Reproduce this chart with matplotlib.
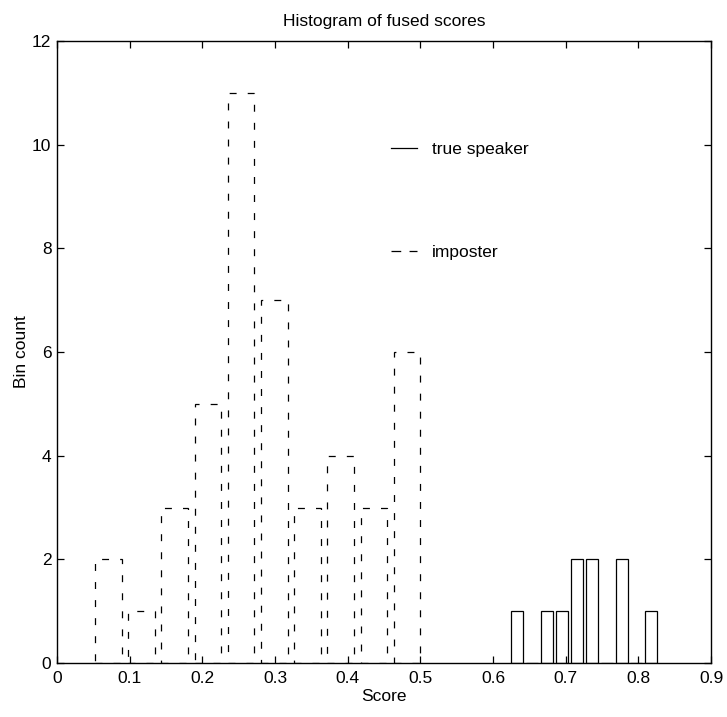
import matplotlib
matplotlib.use("Agg")
import matplotlib.pyplot as plt
from matplotlib.lines import Line2D
from matplotlib.ticker import FormatStrFormatter

plt.rcParams["font.family"] = ["Liberation Sans", "DejaVu Sans"]
plt.rcParams["lines.scale_dashes"] = False

# -------------------- Datos --------------------
# Centros de los 10 bins y cuentas
imp_centros = [0.0706, 0.1163, 0.1620, 0.2077, 0.2534, 0.2991, 0.3448, 0.3905, 0.4362, 0.4819]
imp_cuentas = [2, 1, 3, 5, 11, 7, 3, 4, 3, 6]
imp_ancho = 0.0366

true_centros = [0.6330, 0.6536, 0.6741, 0.6947, 0.7152, 0.7358, 0.7563, 0.7769, 0.7974, 0.8180]
true_cuentas = [1, 0, 1, 1, 2, 2, 0, 2, 0, 1]
true_ancho = 0.0165

x_ticks = [0, 0.1, 0.2, 0.3, 0.4, 0.5, 0.6, 0.7, 0.8, 0.9]
y_ticks = [0, 2, 4, 6, 8, 10, 12]

guion = (0, (5, 8))

# -------------------- Gráfica --------------------
fig = plt.figure(figsize=(7.27, 7.17), dpi=100)
ax = fig.add_axes([0.0784, 0.0753, 0.8996, 0.8675])

ax.bar(true_centros, true_cuentas, width=true_ancho, fill=False,
       edgecolor="black", linewidth=0.9)
ax.bar(imp_centros, imp_cuentas, width=imp_ancho, fill=False,
       edgecolor="black", linewidth=0.9, linestyle=guion)

ax.set_xlim(0, 0.9)
ax.set_ylim(0, 12)
ax.set_xticks(x_ticks)
ax.set_yticks(y_ticks)
ax.xaxis.set_major_formatter(FormatStrFormatter("%g"))
ax.yaxis.set_major_formatter(FormatStrFormatter("%g"))
ax.tick_params(direction="in", length=5, width=0.9, top=True, right=True,
               labelsize=12.5)
ax.tick_params(axis="x", pad=6)
ax.tick_params(axis="y", pad=4)
for s in ax.spines.values():
    s.set_linewidth(1.0)

ax.set_title("Histogram of fused scores", fontsize=12.5, pad=11)
ax.set_xlabel("Score", fontsize=12.5, labelpad=2)
ax.set_ylabel("Bin count", fontsize=12.5, labelpad=2)

handles = [
    Line2D([], [], color="black", linewidth=0.9),
    Line2D([], [], color="black", linewidth=0.9, linestyle=(0, (7, 6))),
]
ax.legend(handles, ["true speaker", "imposter"], loc="center left",
          bbox_to_anchor=(0.511, 0.743), frameon=False, fontsize=12.5,
          handlelength=1.5, handletextpad=0.85, labelspacing=5.1,
          borderpad=0, borderaxespad=0)

plt.savefig("out.png", dpi=100)
plt.close()
